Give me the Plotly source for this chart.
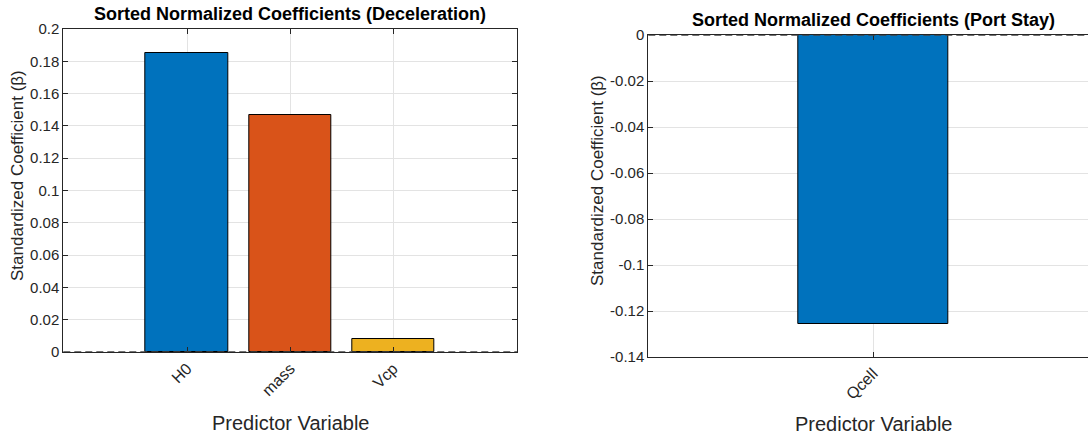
import plotly.graph_objects as go
from plotly.subplots import make_subplots

# Standardized regression coefficients, sorted by magnitude
decel_vars = ["H0", "mass", "Vcp"]
decel_beta = [0.185, 0.1465, 0.0083]
decel_colors = ["#0072BD", "#D95319", "#EDB120"]

port_vars = ["Qcell"]
port_beta = [-0.1258]
port_colors = ["#0072BD"]

decel_yticks = [0, 0.02, 0.04, 0.06, 0.08, 0.1, 0.12, 0.14, 0.16, 0.18, 0.2]
decel_yticktext = ["0", "0.02", "0.04", "0.06", "0.08", "0.1", "0.12", "0.14", "0.16", "0.18", "0.2"]
port_yticks = [0, -0.02, -0.04, -0.06, -0.08, -0.1, -0.12, -0.14]
port_yticktext = ["0", "-0.02", "-0.04", "-0.06", "-0.08", "-0.1", "-0.12", "-0.14"]

W, H = 1088, 437
FONT = "Liberation Sans, Arial, Helvetica, sans-serif"
AX = "#262626"
GRID = "#e3e3e3"

fig = make_subplots(rows=1, cols=2)

fig.add_trace(go.Bar(x=list(range(len(decel_vars))), y=decel_beta, width=0.8,
                     marker=dict(color=decel_colors, line=dict(color="black", width=1))),
              row=1, col=1)
fig.add_trace(go.Bar(x=list(range(len(port_vars))), y=port_beta, width=0.8,
                     marker=dict(color=port_colors, line=dict(color="black", width=1))),
              row=1, col=2)

# dashed zero reference lines
fig.add_hline(y=0, line=dict(color="#444444", width=1.3, dash="7px,4px"), row=1, col=1)
fig.add_hline(y=0, line=dict(color="#444444", width=1.3, dash="7px,4px"), row=1, col=2)

# plot-area geometry in pixels
L1, R1, T1, B1 = 63.3, 517.0, 29.0, 352.0
L2, R2full, T2, B2 = 648.3, 1097.7, 35.0, 357.0
R2 = W  # the right panel runs to the page edge

common_axis = dict(showline=True, linecolor=AX, linewidth=1, mirror="ticks",
                   ticks="inside", ticklen=5, tickcolor=AX,
                   showgrid=True, gridcolor=GRID, gridwidth=1,
                   zeroline=False, automargin=False,
                   tickfont=dict(family=FONT, size=15, color=AX))

fig.update_xaxes(common_axis)
fig.update_yaxes(common_axis)

fig.update_xaxes(row=1, col=1, domain=[L1 / W, R1 / W], range=[-1.2, 3.2],
                 tickvals=list(range(len(decel_vars))), ticktext=decel_vars, tickangle=-45,
                 tickfont=dict(size=16))
# right panel: x extent chosen so the unit scale equals the full panel width
unit2 = (R2full - L2) / 2.4
fig.update_xaxes(row=1, col=2, domain=[L2 / W, R2 / W],
                 range=[-1.2, -1.2 + (R2 - L2) / unit2],
                 tickvals=list(range(len(port_vars))), ticktext=port_vars, tickangle=-45,
                 tickfont=dict(size=16))
fig.update_yaxes(row=1, col=1, domain=[(H - B1) / H, (H - T1) / H], range=[0, 0.2],
                 tickvals=decel_yticks, ticktext=decel_yticktext)
fig.update_yaxes(row=1, col=2, domain=[(H - B2) / H, (H - T2) / H], range=[-0.14, 0],
                 tickvals=port_yticks, ticktext=port_yticktext, mirror=False)

ann = []
c1 = (L1 + R1) / 2
c2 = (L2 + R2full) / 2
ann.append(dict(text="<b>Sorted Normalized Coefficients (Deceleration)</b>", x=c1 / W, y=1 - 14 / H,
                font=dict(family=FONT, size=18, color="black")))
ann.append(dict(text="<b>Sorted Normalized Coefficients (Port Stay)</b>", x=c2 / W, y=1 - 20 / H,
                font=dict(family=FONT, size=18, color="black")))
ann.append(dict(text="Predictor Variable", x=c1 / W, y=1 - 423 / H,
                font=dict(family=FONT, size=20, color=AX)))
ann.append(dict(text="Predictor Variable", x=c2 / W, y=1 - 424 / H,
                font=dict(family=FONT, size=20, color=AX)))
ann.append(dict(text="Standardized Coefficient (β)", x=17 / W, y=1 - 176 / H,
                textangle=-90, font=dict(family=FONT, size=17, color=AX)))
ann.append(dict(text="Standardized Coefficient (β)", x=597 / W, y=1 - 181 / H,
                textangle=-90, font=dict(family=FONT, size=17, color=AX)))
for a in ann:
    a.update(xref="paper", yref="paper", showarrow=False, xanchor="center", yanchor="middle")

fig.update_layout(width=W, height=H, margin=dict(l=0, r=0, t=0, b=0),
                  paper_bgcolor="white", plot_bgcolor="white", showlegend=False,
                  annotations=ann, bargap=0)

fig.write_html("out.html", config={"displayModeBar": False})
